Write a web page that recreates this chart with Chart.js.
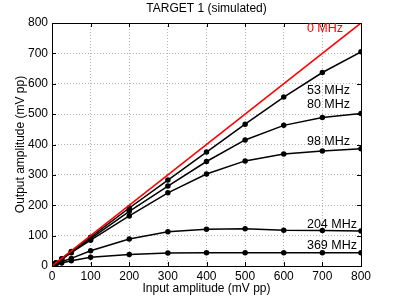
<!DOCTYPE html>
<html>
<head>
<meta charset="utf-8">
<script src="https://cdn.jsdelivr.net/npm/chart.js@4/dist/chart.umd.min.js"></script>
<style>
  html, body { margin: 0; padding: 0; background: #fff; }
  #wrap { width: 399px; height: 300px; }
</style>
</head>
<body>
<div id="wrap"><canvas id="chart"></canvas></div>
<script>
// input amplitudes (mV pp)
const inputs = [10, 25, 50, 100, 200, 300, 400, 500, 600, 700, 800];
const ideal = [[0, 0], [800, 800]];

// output amplitudes per frequency
const out53 = [10, 24, 48, 95, 191, 283, 375, 467, 556, 637, 705];
const out80 = [10, 23, 46, 90, 180, 263, 344, 415, 463, 489, 502];
const out98 = [10, 22, 44, 85, 165, 241, 303, 346, 369, 379, 386];
const out204 = [7, 14, 25, 50, 89, 113, 121, 123, 118, 117, 115];
const out369 = [5, 10, 17, 29, 38, 43, 44, 44, 44, 44, 44];

const xTicks = [0, 100, 200, 300, 400, 500, 600, 700, 800];
const yTicks = [0, 100, 200, 300, 400, 500, 600, 700, 800];

const curveLabels = ['0 MHz', '53 MHz', '80 MHz', '98 MHz', '204 MHz', '369 MHz'];
const labelY = [783, 579, 530, 411, 138, 66];
const labelColors = ['#ff0000', '#000', '#000', '#000', '#000', '#000'];
const chartTitle = 'TARGET 1 (simulated)';

const FONT = "'Liberation Sans', Arial, sans-serif";
Chart.defaults.font.family = FONT;
Chart.defaults.color = '#000';

function pts(vals) {
    return inputs.map((x, i) => ({ x: x, y: vals[i] }));
}

function blackSeries(vals) {
    return {
        data: pts(vals),
        showLine: true,
        borderColor: '#000',
        backgroundColor: '#000',
        borderWidth: 1.5,
        pointRadius: 2,
        pointHoverRadius: 2
    };
}

// title over the plot, box, inward ticks and curve labels
const decor = {
    id: 'decor',
    afterDraw(chart) {
        const { ctx, chartArea: a, scales } = chart;
        ctx.save();
        ctx.strokeStyle = '#000';
        ctx.lineWidth = 1;
        ctx.strokeRect(a.left + 0.5, a.top + 0.5, a.right - a.left, a.bottom - a.top);
        ctx.beginPath();
        xTicks.forEach(v => {
            const px = Math.round(scales.x.getPixelForValue(v)) + 0.5;
            ctx.moveTo(px, a.bottom); ctx.lineTo(px, a.bottom - 4);
            ctx.moveTo(px, a.top); ctx.lineTo(px, a.top + 4);
        });
        yTicks.forEach(v => {
            const py = Math.round(scales.y.getPixelForValue(v)) + 0.5;
            ctx.moveTo(a.left, py); ctx.lineTo(a.left + 4, py);
            ctx.moveTo(a.right, py); ctx.lineTo(a.right - 4, py);
        });
        ctx.stroke();

        ctx.font = '12px ' + FONT;
        ctx.textBaseline = 'middle';
        ctx.textAlign = 'center';
        ctx.fillStyle = '#000';
        ctx.fillText(chartTitle, (a.left + a.right) / 2, 9);

        ctx.font = '12.5px ' + FONT;
        ctx.textAlign = 'left';
        curveLabels.forEach((t, i) => {
            ctx.fillStyle = labelColors[i];
            ctx.fillText(t, scales.x.getPixelForValue(660), scales.y.getPixelForValue(labelY[i]));
        });
        ctx.restore();
    }
};

new Chart(document.getElementById('chart').getContext('2d'), {
    type: 'scatter',
    data: {
        datasets: [
            {
                data: ideal,
                showLine: true,
                borderColor: '#ff0000',
                borderWidth: 1.6,
                pointRadius: 0,
                pointHoverRadius: 0
            },
            blackSeries(out53),
            blackSeries(out80),
            blackSeries(out98),
            blackSeries(out204),
            blackSeries(out369)
        ]
    },
    options: {
        responsive: true,
        maintainAspectRatio: false,
        animation: false,
        layout: { padding: { left: 0, right: 38, top: 23, bottom: 0 } },
        scales: {
            x: {
                type: 'linear',
                min: 0,
                max: 800,
                afterBuildTicks: s => { s.ticks = xTicks.map(v => ({ value: v })); },
                afterFit: s => { s.height = 34; },
                grid: {
                    color: '#b4b4b4',
                    drawTicks: false
                },
                border: { display: false, dash: [1, 2] },
                ticks: { font: { size: 12 }, padding: 3, maxRotation: 0 },
                title: {
                    display: true,
                    text: 'Input amplitude (mV pp)',
                    font: { size: 12 },
                    padding: { top: 0, bottom: 4 }
                }
            },
            y: {
                type: 'linear',
                min: 0,
                max: 800,
                afterBuildTicks: s => { s.ticks = yTicks.map(v => ({ value: v })); },
                afterFit: s => { s.width = 52; },
                grid: {
                    color: '#b4b4b4',
                    drawTicks: false
                },
                border: { display: false, dash: [1, 2] },
                ticks: { font: { size: 12 }, padding: 4 },
                title: {
                    display: true,
                    text: 'Output amplitude (mV pp)',
                    font: { size: 12 },
                    padding: { top: 13, bottom: 0 }
                }
            }
        },
        plugins: {
            legend: { display: false },
            tooltip: { enabled: false },
            title: { display: false }
        }
    },
    plugins: [decor]
});
</script>
</body>
</html>
